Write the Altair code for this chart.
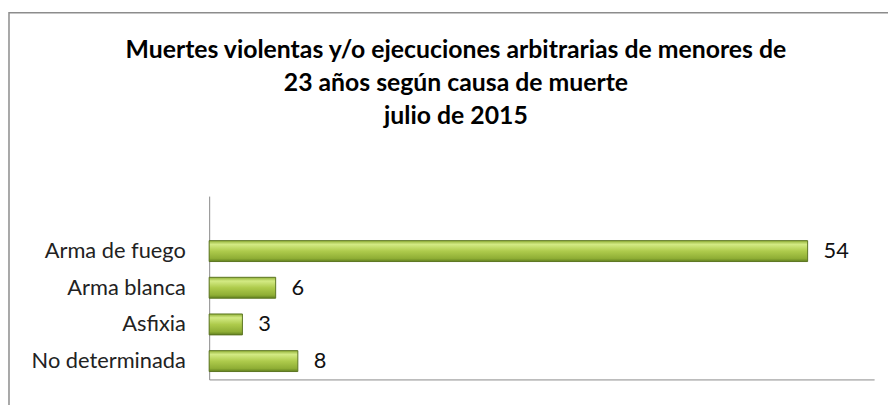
import altair as alt
import pandas as pd

categories = ["Arma de fuego", "Arma blanca", "Asfixia", "No determinada"]
values = [54, 6, 3, 8]
domain = [" "] + categories

title_lines = [
    "Muertes violentas y/o ejecuciones arbitrarias de menores de",
    "23 años según causa de muerte",
    "julio de 2015",
]

df = pd.DataFrame({"cat": categories, "v": values})
frame_df = pd.DataFrame({"a": [0]})

FONT = "Lato"
LABEL_SIZE = 22

y_enc = alt.Y(
    "cat:N",
    sort=domain,
    scale=alt.Scale(domain=domain, paddingInner=0.43, paddingOuter=0.215),
    axis=alt.Axis(title=None, ticks=False, domainColor="#8a8a8a", domainWidth=1,
                  labelFontSize=LABEL_SIZE, labelPadding=24, labelColor="#222222",
                  labelFont=FONT),
)
x_enc = alt.X(
    "v:Q",
    scale=alt.Scale(domain=[0, 60]),
    axis=alt.Axis(title=None, labels=False, ticks=False, grid=False,
                  domainColor="#8a8a8a", domainWidth=1),
)

grad = alt.Gradient(
    gradient="linear",
    stops=[
        alt.GradientStop(color="#92b138", offset=0),
        alt.GradientStop(color="#d3ea84", offset=0.18),
        alt.GradientStop(color="#aecb4c", offset=0.5),
        alt.GradientStop(color="#8fae35", offset=0.85),
        alt.GradientStop(color="#61801f", offset=1),
    ],
    x1=0, x2=0, y1=0, y2=1,
)

bars = alt.Chart(df).mark_bar(color=grad, stroke="#5b7420", strokeWidth=1).encode(
    x=x_enc, y=y_enc
)
labels = alt.Chart(df).mark_text(
    align="left", dx=16, fontSize=LABEL_SIZE, font=FONT, color="#111111"
).encode(x=x_enc, y=y_enc, text="v:Q")

frame = alt.Chart(frame_df).mark_rect(
    fillOpacity=0, stroke="#8c8c8c", strokeWidth=1.5
).encode(
    x=alt.value(-202), x2=alt.value(720), y=alt.value(-185), y2=alt.value(260)
)

title_y = [-147, -114, -81]
title_layers = []
for line, ty in zip(title_lines, title_y):
    tdf = pd.DataFrame({"t": [line]})
    title_layers.append(
        alt.Chart(tdf).mark_text(
            align="center", baseline="middle", fontSize=25, font=FONT,
            fontWeight="bold", color="#000000"
        ).encode(x=alt.value(249), y=alt.value(ty), text="t:N")
    )

chart = (
    alt.layer(frame, bars, labels, *title_layers)
    .properties(
        width=671,
        height=185,
        autosize=alt.AutoSizeParams(type="none"),
        padding={"left": 203, "top": 188, "right": 14, "bottom": 24},
    )
    .configure_view(stroke=None)
)

chart.save("out.html", embed_options={"renderer": "svg", "actions": False})
